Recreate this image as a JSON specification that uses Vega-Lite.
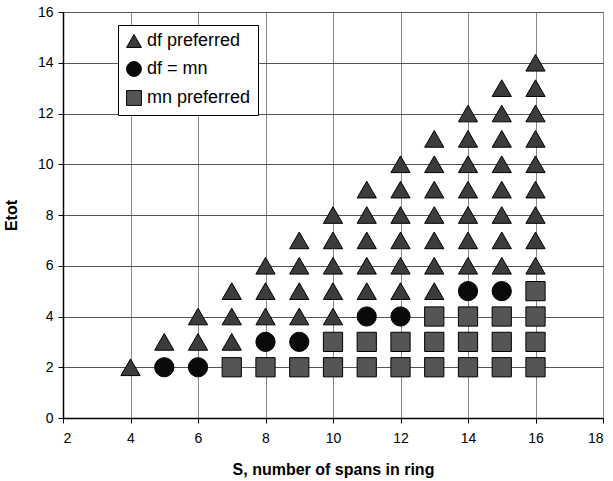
{
  "$schema": "https://vega.github.io/schema/vega-lite/v6.json",
  "autosize": "none",
  "width": 540,
  "height": 406,
  "padding": {"left": 63, "top": 12, "right": 10, "bottom": 63},
  "background": "white",
  "config": {
    "font": "Liberation Sans",
    "view": {"stroke": null},
    "axis": {
      "gridColor": "#555",
      "gridWidth": 1,
      "gridOpacity": 1,
      "domainColor": "black",
      "domainWidth": 1.5,
      "tickColor": "black",
      "tickSize": 5,
      "labelFontSize": 14,
      "labelColor": "black",
      "titleFontSize": 16,
      "titleFontWeight": "bold",
      "titleColor": "black"
    },
    "legend": {
      "labelFontSize": 18,
      "labelColor": "black",
      "symbolSize": 220,
      "symbolStrokeColor": "black",
      "symbolStrokeWidth": 1,
      "rowPadding": 9,
      "labelOffset": 4,
      "padding": 7,
      "strokeColor": "black",
      "fillColor": "white"
    }
  },
  "data": {
    "values": [
      {"S": 4, "E": 2, "type": "df preferred"},
      {"S": 5, "E": 2, "type": "df = mn"},
      {"S": 5, "E": 3, "type": "df preferred"},
      {"S": 6, "E": 2, "type": "df = mn"},
      {"S": 6, "E": 3, "type": "df preferred"},
      {"S": 6, "E": 4, "type": "df preferred"},
      {"S": 7, "E": 2, "type": "mn preferred"},
      {"S": 7, "E": 3, "type": "df preferred"},
      {"S": 7, "E": 4, "type": "df preferred"},
      {"S": 7, "E": 5, "type": "df preferred"},
      {"S": 8, "E": 2, "type": "mn preferred"},
      {"S": 8, "E": 3, "type": "df = mn"},
      {"S": 8, "E": 4, "type": "df preferred"},
      {"S": 8, "E": 5, "type": "df preferred"},
      {"S": 8, "E": 6, "type": "df preferred"},
      {"S": 9, "E": 2, "type": "mn preferred"},
      {"S": 9, "E": 3, "type": "df = mn"},
      {"S": 9, "E": 4, "type": "df preferred"},
      {"S": 9, "E": 5, "type": "df preferred"},
      {"S": 9, "E": 6, "type": "df preferred"},
      {"S": 9, "E": 7, "type": "df preferred"},
      {"S": 10, "E": 2, "type": "mn preferred"},
      {"S": 10, "E": 3, "type": "mn preferred"},
      {"S": 10, "E": 4, "type": "df preferred"},
      {"S": 10, "E": 5, "type": "df preferred"},
      {"S": 10, "E": 6, "type": "df preferred"},
      {"S": 10, "E": 7, "type": "df preferred"},
      {"S": 10, "E": 8, "type": "df preferred"},
      {"S": 11, "E": 2, "type": "mn preferred"},
      {"S": 11, "E": 3, "type": "mn preferred"},
      {"S": 11, "E": 4, "type": "df = mn"},
      {"S": 11, "E": 5, "type": "df preferred"},
      {"S": 11, "E": 6, "type": "df preferred"},
      {"S": 11, "E": 7, "type": "df preferred"},
      {"S": 11, "E": 8, "type": "df preferred"},
      {"S": 11, "E": 9, "type": "df preferred"},
      {"S": 12, "E": 2, "type": "mn preferred"},
      {"S": 12, "E": 3, "type": "mn preferred"},
      {"S": 12, "E": 4, "type": "df = mn"},
      {"S": 12, "E": 5, "type": "df preferred"},
      {"S": 12, "E": 6, "type": "df preferred"},
      {"S": 12, "E": 7, "type": "df preferred"},
      {"S": 12, "E": 8, "type": "df preferred"},
      {"S": 12, "E": 9, "type": "df preferred"},
      {"S": 12, "E": 10, "type": "df preferred"},
      {"S": 13, "E": 2, "type": "mn preferred"},
      {"S": 13, "E": 3, "type": "mn preferred"},
      {"S": 13, "E": 4, "type": "mn preferred"},
      {"S": 13, "E": 5, "type": "df preferred"},
      {"S": 13, "E": 6, "type": "df preferred"},
      {"S": 13, "E": 7, "type": "df preferred"},
      {"S": 13, "E": 8, "type": "df preferred"},
      {"S": 13, "E": 9, "type": "df preferred"},
      {"S": 13, "E": 10, "type": "df preferred"},
      {"S": 13, "E": 11, "type": "df preferred"},
      {"S": 14, "E": 2, "type": "mn preferred"},
      {"S": 14, "E": 3, "type": "mn preferred"},
      {"S": 14, "E": 4, "type": "mn preferred"},
      {"S": 14, "E": 5, "type": "df = mn"},
      {"S": 14, "E": 6, "type": "df preferred"},
      {"S": 14, "E": 7, "type": "df preferred"},
      {"S": 14, "E": 8, "type": "df preferred"},
      {"S": 14, "E": 9, "type": "df preferred"},
      {"S": 14, "E": 10, "type": "df preferred"},
      {"S": 14, "E": 11, "type": "df preferred"},
      {"S": 14, "E": 12, "type": "df preferred"},
      {"S": 15, "E": 2, "type": "mn preferred"},
      {"S": 15, "E": 3, "type": "mn preferred"},
      {"S": 15, "E": 4, "type": "mn preferred"},
      {"S": 15, "E": 5, "type": "df = mn"},
      {"S": 15, "E": 6, "type": "df preferred"},
      {"S": 15, "E": 7, "type": "df preferred"},
      {"S": 15, "E": 8, "type": "df preferred"},
      {"S": 15, "E": 9, "type": "df preferred"},
      {"S": 15, "E": 10, "type": "df preferred"},
      {"S": 15, "E": 11, "type": "df preferred"},
      {"S": 15, "E": 12, "type": "df preferred"},
      {"S": 15, "E": 13, "type": "df preferred"},
      {"S": 16, "E": 2, "type": "mn preferred"},
      {"S": 16, "E": 3, "type": "mn preferred"},
      {"S": 16, "E": 4, "type": "mn preferred"},
      {"S": 16, "E": 5, "type": "mn preferred"},
      {"S": 16, "E": 6, "type": "df preferred"},
      {"S": 16, "E": 7, "type": "df preferred"},
      {"S": 16, "E": 8, "type": "df preferred"},
      {"S": 16, "E": 9, "type": "df preferred"},
      {"S": 16, "E": 10, "type": "df preferred"},
      {"S": 16, "E": 11, "type": "df preferred"},
      {"S": 16, "E": 12, "type": "df preferred"},
      {"S": 16, "E": 13, "type": "df preferred"},
      {"S": 16, "E": 14, "type": "df preferred"}
    ]
  },
  "mark": {"type": "point", "filled": true, "size": 370, "stroke": "black", "strokeWidth": 1, "opacity": 1},
  "encoding": {
    "x": {
      "field": "S", "type": "quantitative",
      "scale": {"domain": [2, 18], "nice": false, "zero": false},
      "axis": {"values": [2, 4, 6, 8, 10, 12, 14, 16, 18], "title": "S, number of spans in ring", "titlePadding": 16, "labelPadding": 8, "gridColor": "#888"}
    },
    "y": {
      "field": "E", "type": "quantitative",
      "scale": {"domain": [0, 16], "nice": false},
      "axis": {"values": [0, 2, 4, 6, 8, 10, 12, 14, 16], "title": "Etot", "titlePadding": 18, "labelPadding": 5}
    },
    "shape": {
      "field": "type", "type": "nominal",
      "scale": {"domain": ["df preferred", "df = mn", "mn preferred"], "range": ["triangle-up", "circle", "square"]},
      "legend": {"title": null, "orient": "none", "legendX": 55, "legendY": 13}
    },
    "color": {
      "field": "type", "type": "nominal",
      "scale": {"domain": ["df preferred", "df = mn", "mn preferred"], "range": ["#3c3c3c", "#0a0a0a", "#555555"]},
      "legend": {"title": null, "orient": "none", "legendX": 55, "legendY": 13}
    }
  }
}
